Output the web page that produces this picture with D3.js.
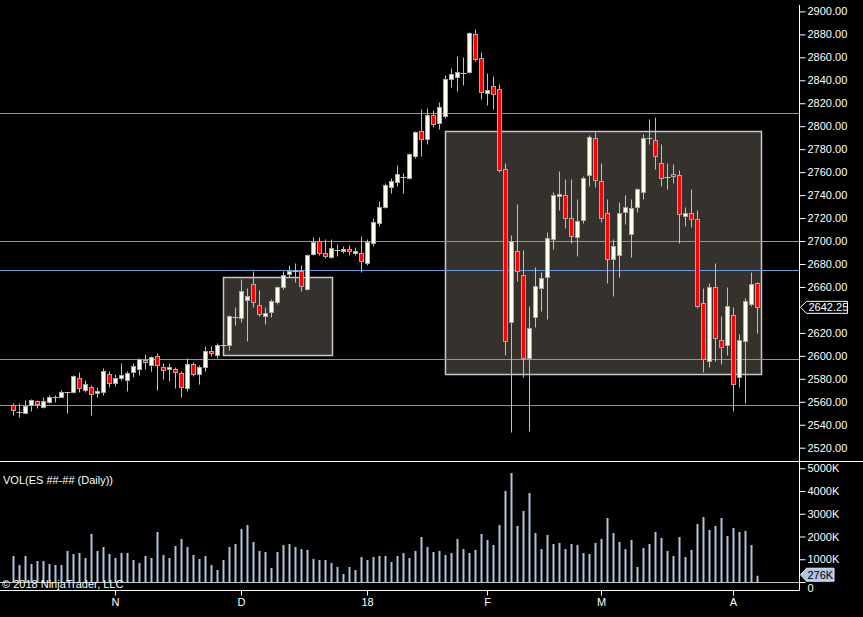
<!DOCTYPE html>
<html>
<head>
<meta charset="utf-8">
<script src="https://cdn.jsdelivr.net/npm/d3@7/dist/d3.min.js"></script>
<style>
	body { margin: 0; background: #000; }
	svg { display: block; }
	text { font-family: "Liberation Sans", Arial, sans-serif; font-size: 11px; fill: #fff; }
</style>
</head>
<body>
<script>
// daily ES bars, oldest first
let opens = [2556.9, 2551.4, 2550.5, 2556.9, 2560.4, 2555.7, 2560.1, 2564.4, 2564.4, 2568.5,
	2568.8, 2580.4, 2570.5, 2572.6, 2567.4, 2568.8, 2583.9, 2576.1, 2580.4, 2579.2,
	2585.7, 2588.3, 2596.1, 2591.8, 2599.6, 2590, 2588.3, 2588.3, 2584.8, 2572.3,
	2592.6, 2583.9, 2590, 2604, 2601, 2609.7, 2609.5, 2633.6, 2633.2, 2648.9,
	2662.3, 2644, 2635, 2638.5, 2647.2, 2660.2, 2671.6, 2673.9, 2673.6, 2658,
	2688.5, 2700.3, 2689.8, 2686.4, 2692.2, 2691.6, 2692.8, 2689.3, 2690, 2680.6,
	2698.6, 2715.5, 2729.9, 2747.3, 2751.7, 2756, 2755.2, 2774.3, 2795.6, 2788.6,
	2809.8, 2802.6, 2809.2, 2840.9, 2842.6, 2846.6, 2847.5, 2880, 2859.2, 2829.2,
	2834.8, 2832.2, 2762.5, 2629.2, 2691.1, 2670.2, 2598.4, 2633.6, 2658.8, 2668.4,
	2701.5, 2739.5, 2739.8, 2719.8, 2703.8, 2718.1, 2757.3, 2789.5, 2752, 2724.2,
	2684.1, 2688.1, 2725, 2705.9, 2729.4, 2742.5, 2789.5, 2787.7, 2767.7, 2756,
	2758.1, 2757.3, 2722.1, 2724.2, 2719.2, 2645.8, 2595.3, 2659.7, 2613.5, 2609.7,
	2635.3, 2581.3, 2612.7, 2645.4, 2663.2]
let highs = [2558.7, 2558.7, 2561.5, 2562, 2561.5, 2563.9, 2565.6, 2565.6, 2570, 2568.75,
	2583.3, 2585.7, 2579, 2574.6, 2572.6, 2589.2, 2586.8, 2584.2, 2593.5, 2586.8,
	2593.5, 2597.9, 2601.4, 2600.1, 2602.2, 2593.5, 2593.5, 2590, 2587.1, 2597.9,
	2594.4, 2591.8, 2608.6, 2608.6, 2610.9, 2611.5, 2636, 2642.3, 2666.7, 2658.8,
	2673.9, 2657.4, 2642.3, 2649.5, 2661, 2673.9, 2679.1, 2680.6, 2679.1, 2688.7,
	2703.3, 2703.3, 2701.5, 2701.5, 2697.2, 2695.9, 2696.5, 2694.5, 2704.4, 2701.5,
	2719.8, 2734.9, 2750.3, 2754.6, 2766.2, 2759.5, 2776.4, 2795.8, 2814.7, 2815.6,
	2814.1, 2821.1, 2844.6, 2850.5, 2861.2, 2860, 2881.8, 2884.4, 2864.4, 2846.1,
	2843.8, 2836.5, 2768.2, 2705.3, 2732.3, 2692.2, 2643.7, 2677.7, 2673, 2707.9,
	2743, 2761, 2754, 2754, 2736.6, 2756.6, 2792.4, 2795.2, 2767.7, 2736.6,
	2701.5, 2734, 2739.8, 2736.6, 2746.5, 2793.2, 2806.3, 2808.3, 2784.5, 2767.7,
	2767.1, 2761.9, 2729.6, 2745.3, 2727, 2658.8, 2663.7, 2680.6, 2634.7, 2660,
	2642.5, 2619, 2650.7, 2673, 2664.6]
let lows = [2548.5, 2547, 2550, 2552.2, 2554.3, 2554.8, 2558.7, 2559.8, 2563.9, 2550.5,
	2567.4, 2568.8, 2568.8, 2548.5, 2563.9, 2565.9, 2573.1, 2574, 2579, 2569.6,
	2581.3, 2583.3, 2588.5, 2586.8, 2570.3, 2579.6, 2578.4, 2572.3, 2563.9, 2569.6,
	2582.7, 2575.7, 2587.1, 2600.1, 2597.9, 2608, 2605.1, 2626.9, 2629.7, 2613.2,
	2642.3, 2634.7, 2627.7, 2634.1, 2645, 2658, 2668.4, 2664.6, 2656.7, 2657.4,
	2687.8, 2687.8, 2685, 2685, 2687, 2689.3, 2687.7, 2687.8, 2673.3, 2679.1,
	2696, 2713.4, 2728.5, 2742.1, 2748.2, 2742.1, 2753.8, 2772.6, 2774.1, 2784.8,
	2799.6, 2797.3, 2807.4, 2834.4, 2831, 2835.9, 2846.6, 2857.1, 2823.7, 2818.5,
	2815, 2760.4, 2600.7, 2533.9, 2665.5, 2581.8, 2534.8, 2625.4, 2639.3, 2632.4,
	2693.3, 2727, 2711.1, 2698.6, 2687.2, 2715.7, 2748.2, 2747.3, 2716.8, 2663.7,
	2652.4, 2668.9, 2715.1, 2686.4, 2725, 2736.4, 2784.3, 2762.7, 2748.2, 2745.3,
	2750.8, 2698, 2713.4, 2712.5, 2641.9, 2586.2, 2590.6, 2595.8, 2592.9, 2600.7,
	2552.2, 2573.1, 2559.2, 2643, 2620.2]
let closes = [2552.6, 2551.4, 2556.3, 2561.3, 2557.8, 2560.4, 2563.9, 2564.4, 2568.3, 2568.5,
	2582.2, 2571.7, 2575.2, 2566.5, 2569.4, 2586.5, 2576.1, 2580.4, 2583.1, 2584.8,
	2590.9, 2597, 2594.4, 2598.7, 2591.8, 2587.4, 2590, 2585.7, 2572.6, 2592.6,
	2583.9, 2590, 2604, 2602.2, 2609.2, 2609.7, 2634.7, 2633.6, 2656.5, 2651.9,
	2646.6, 2636.2, 2637.3, 2647.8, 2660, 2670.2, 2673.6, 2673.9, 2661.1, 2687.8,
	2699.4, 2689.3, 2687, 2693.7, 2692.2, 2693.1, 2691, 2691, 2682.6, 2699.2,
	2716.6, 2729.4, 2748.8, 2752, 2758.1, 2756, 2775.6, 2794.7, 2788.6, 2809.5,
	2801.7, 2816.5, 2840.9, 2845.5, 2847.2, 2846.6, 2880.9, 2858.8, 2830.1, 2831.6,
	2828.3, 2761.9, 2613.2, 2699.8, 2673.6, 2598.4, 2624, 2660.8, 2667.5, 2702.4,
	2739.8, 2740.7, 2719.8, 2704.1, 2717.2, 2754.6, 2790.4, 2752.9, 2719.8, 2684.1,
	2695.4, 2724.2, 2729.4, 2728.5, 2745.1, 2789.5, 2789.5, 2773.8, 2754.6, 2756,
	2756.4, 2723.3, 2724.2, 2718.9, 2643.7, 2597.5, 2659.7, 2615.8, 2607.4, 2643.2,
	2575.2, 2613.5, 2647.8, 2662.3, 2642.25]
// volume in thousands of contracts
let volumes = [1143, 747, 1143, 791, 923, 923, 791, 747, 747, 1363,
	1231, 1275, 1055, 2110, 1363, 1538, 1231, 1055, 1275, 1275,
	967, 835, 1143, 1055, 2198, 1187, 1055, 1582, 1890, 1538,
	1187, 1011, 1143, 747, 527, 967, 1538, 1670, 2330, 2505,
	1758, 1363, 1319, 615, 1319, 1626, 1670, 1538, 1450, 1407,
	1011, 967, 967, 835, 659, 352, 659, 527, 1099, 967,
	1099, 1143, 1143, 879, 1143, 1275, 1055, 1363, 1978, 1538,
	1319, 1363, 1187, 1275, 1890, 1450, 1275, 1407, 2110, 1846,
	1626, 2505, 4000, 4791, 2462, 3121, 3912, 2154, 1450, 2066,
	1670, 1714, 1450, 1670, 1626, 1275, 1231, 1714, 1890, 2813,
	2154, 1758, 1450, 1846, 659, 1494, 1670, 2198, 1934, 1363,
	1143, 1978, 1099, 1407, 2549, 2857, 2286, 2462, 2813, 2022,
	2374, 2198, 2242, 1626, 276]

let dateTickBars = [17, 38, 59, 79, 98, 120]
let dateTickLabels = ['N', 'D', '18', 'F', 'M', 'A']
// 2640 sits under the last price marker, so it has no label
let priceTicks = d3.range(2520, 2901, 20).filter(d => d != 2640)
let volumeTicks = [0, 1000, 2000, 3000, 4000, 5000]

// drawn horizontal lines and zones
let hLines = [2811.3, 2700, 2674.5, 2597.3, 2557.2]
let zoneStart = [35.1, 72.1]
let zoneEnd = [53.3, 124.8]
let zoneTop = [2668.4, 2795.6]
let zoneBottom = [2600.5, 2583.9]

let W = 863, H = 617
let axisX = 799.5

let svg = d3.select('body').append('svg')
	.attr('width', W).attr('height', H)
svg.append('rect').attr('width', W).attr('height', H).attr('fill', '#000')

let x = d3.scaleLinear().domain([0, opens.length - 1]).range([12.67, 756.67])
let y = d3.scaleLinear().domain([2520, 2900]).range([447.7, 11.4])
let yv = d3.scaleLinear().domain([0, 5000]).range([582, 468.25])

let px = i => Math.round(x(i)) + 0.5
let py = v => Math.round(y(v)) + 0.5

// zones
let zones = svg.append('g')
for (let k = 0; k < zoneStart.length; k++) {
	let x0 = Math.round(x(zoneStart[k])) + 0.5
	let x1 = Math.round(x(zoneEnd[k])) + 0.5
	let y0 = py(zoneTop[k])
	let y1 = py(zoneBottom[k])
	zones.append('rect')
		.attr('x', x0).attr('y', y0)
		.attr('width', x1 - x0).attr('height', y1 - y0)
		.attr('fill', '#35312c')
		.attr('stroke', '#c8c8c8').attr('stroke-width', 1.5)
}

// horizontal lines
svg.append('g').selectAll('line').data(hLines).join('line')
	.attr('x1', 0).attr('x2', axisX)
	.attr('y1', d => py(d)).attr('y2', d => py(d))
	.attr('stroke', '#6b9be6').attr('stroke-width', 1)

// candles
let candles = svg.append('g')
for (let i = 0; i < opens.length; i++) {
	let o = opens[i], c = closes[i]
	let cx = px(i)
	candles.append('line')
		.attr('x1', cx).attr('x2', cx)
		.attr('y1', py(highs[i])).attr('y2', py(lows[i]))
		.attr('stroke', '#c0c0c0').attr('stroke-width', 1)
	let top = py(Math.max(o, c))
	let bot = py(Math.min(o, c))
	if (bot - top < 1) {
		candles.append('line')
			.attr('x1', cx - 3).attr('x2', cx + 3)
			.attr('y1', top).attr('y2', top)
			.attr('stroke', '#c0c0c0').attr('stroke-width', 1)
	}
	else {
		candles.append('rect')
			.attr('x', cx - 2).attr('y', top)
			.attr('width', 4).attr('height', bot - top)
			.attr('fill', c >= o ? '#fffff0' : '#ff0000')
			.attr('stroke', '#a8a8a8').attr('stroke-width', 1)
	}
}

// volume bars
svg.append('g').selectAll('rect').data(volumes).join('rect')
	.attr('x', (d, i) => Math.round(x(i)) - 0.5)
	.attr('y', d => yv(d))
	.attr('width', 2)
	.attr('height', d => yv(0) - yv(d))
	.attr('fill', '#b0c4de')

svg.append('line')
	.attr('x1', 0).attr('x2', axisX)
	.attr('y1', 582.5).attr('y2', 582.5)
	.attr('stroke', '#c0c0c0')

// panel frames
svg.append('line')
	.attr('x1', 0).attr('x2', W)
	.attr('y1', 461.5).attr('y2', 461.5)
	.attr('stroke', '#fff')
svg.append('line')
	.attr('x1', 0).attr('x2', axisX)
	.attr('y1', 590.5).attr('y2', 590.5)
	.attr('stroke', '#fff')
svg.append('line')
	.attr('x1', axisX).attr('x2', axisX)
	.attr('y1', 5).attr('y2', 590.5)
	.attr('stroke', '#fff')

// price axis
let priceAxis = svg.append('g')
	.attr('transform', `translate(${axisX},0)`)
	.call(d3.axisRight(y).tickValues(priceTicks).tickSize(6).tickPadding(2).tickFormat(d3.format('.2f')))
priceAxis.select('.domain').remove()
priceAxis.selectAll('.tick line').attr('stroke', '#fff')
priceAxis.selectAll('.tick text').attr('fill', '#fff').style('font-size', '11px')

// volume axis
let volAxis = svg.append('g')
	.attr('transform', `translate(${axisX},0)`)
	.call(d3.axisRight(yv).tickValues(volumeTicks).tickSize(6).tickPadding(2).tickFormat(d => d == 0 ? '0' : d + 'K'))
volAxis.select('.domain').remove()
volAxis.selectAll('.tick line').attr('stroke', '#fff')
volAxis.selectAll('.tick text').attr('fill', '#fff').style('font-size', '11px')
// the zero label peeks out below the volume marker
volAxis.selectAll('.tick text').filter(d => d == 0).attr('y', 6)

// date axis
let dateAxis = svg.append('g')
	.attr('transform', 'translate(0,590.5)')
	.call(d3.axisBottom(x).tickValues(dateTickBars).tickSize(5).tickPadding(3)
		.tickFormat((d, i) => dateTickLabels[i]))
dateAxis.select('.domain').remove()
dateAxis.selectAll('.tick').attr('transform', d => `translate(${px(d)},0)`)
dateAxis.selectAll('.tick line').attr('stroke', '#fff')
dateAxis.selectAll('.tick text').attr('fill', '#fff').style('font-size', '11px')

// last price tag
let last = closes[closes.length - 1]
let ty = y(last)
svg.append('polygon')
	.attr('points', `${axisX + 1},${ty} ${axisX + 7},${ty - 6} ${847.5},${ty - 6} ${847.5},${ty + 6} ${axisX + 7},${ty + 6}`)
	.attr('fill', '#000').attr('stroke', '#fff')
svg.append('text')
	.attr('x', axisX + 9).attr('y', ty).attr('dy', '0.36em')
	.text(d3.format('.2f')(last))

// last volume tag
let lastVol = volumes[volumes.length - 1]
let vy = yv(lastVol) - 1
svg.append('polygon')
	.attr('points', `${axisX + 1},${vy} ${axisX + 7},${vy - 6.5} ${834},${vy - 6.5} ${834},${vy + 6.5} ${axisX + 7},${vy + 6.5}`)
	.attr('fill', '#b0c4de').attr('stroke', '#e8eef6')
svg.append('text')
	.attr('x', axisX + 8).attr('y', vy).attr('dy', '0.36em')
	.style('fill', '#000')
	.text(lastVol + 'K')

// labels
svg.append('text').attr('x', 3).attr('y', 484).text('VOL(ES ##-## (Daily))')
svg.append('text').attr('x', 2).attr('y', 588).text('© 2018 NinjaTrader, LLC')
</script>
</body>
</html>
